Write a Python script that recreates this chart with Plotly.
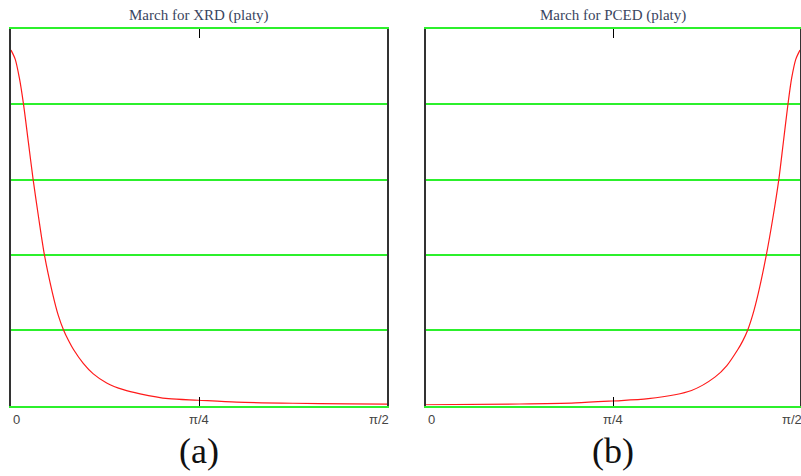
import math
import plotly.graph_objects as go

# ---- data ----
xrd_angle_deg = [0, 1.0, 2.0, 3.0, 4.15, 5.3, 6.6, 8.0, 9.9, 11.3, 12.6, 13.8, 15.0, 17.3, 19.7, 22.9, 26.9, 30.9, 37.7, 44.8, 54, 67.5, 81, 90]
xrd_value = [4.72, 4.6, 4.35, 4.0, 3.5, 3.0, 2.5, 2.0, 1.5, 1.2, 1.0, 0.86, 0.74, 0.56, 0.42, 0.30, 0.21, 0.155, 0.09, 0.07, 0.045, 0.03, 0.022, 0.018]

pced_angle_deg = [0, 22.5, 36, 44.8, 53.5, 63.9, 69.6, 72.4, 75.0, 76.2, 77.4, 78.6, 80.0, 81.9, 83.5, 84.9, 86.0, 87.1, 88.0, 89.0, 90]
pced_value = [0.01, 0.02, 0.035, 0.06, 0.09, 0.2, 0.38, 0.53, 0.74, 0.855, 1.0, 1.2, 1.5, 2.0, 2.5, 3.0, 3.5, 4.0, 4.35, 4.6, 4.72]

titles = ["March for XRD (platy)", "March for PCED (platy)"]
panel_labels = ["(a)", "(b)"]
tick_text = ["0", "π/4", "π/2"]
tick_pos = [0, math.pi / 4, math.pi / 2]

W, H = 801, 476
def px(v):
    return v / W
def py(v):
    return 1 - v / H

green = "#2cf02c"
dark = "#333333"

fig = go.Figure()
series = [(xrd_angle_deg, xrd_value), (pced_angle_deg, pced_value)]
for i, (a, v) in enumerate(series):
    fig.add_trace(go.Scatter(
        x=[d * math.pi / 180 for d in a], y=v,
        mode="lines", line=dict(color="#ff1a1a", width=1.2, shape="spline", smoothing=0.8),
        xaxis="x" if i == 0 else "x2", yaxis="y" if i == 0 else "y2",
        showlegend=False, hoverinfo="skip"))

domains = [(px(11), px(387)), (px(426), px(800))]
ydom = (py(405.5), py(29))

layout = dict(width=W, height=H, margin=dict(l=0, r=0, t=0, b=0),
              paper_bgcolor="white", plot_bgcolor="white", showlegend=False)
for i in range(2):
    sx = "" if i == 0 else "2"
    layout["xaxis" + sx] = dict(domain=list(domains[i]), range=[0, math.pi / 2],
                                showgrid=False, zeroline=False, showline=True,
                                linecolor=green, linewidth=1.5, mirror="allticks",
                                ticks="inside", tickvals=[math.pi / 4], ticklen=9,
                                tickcolor="black", tickwidth=1.2, showticklabels=False,
                                anchor="y" + sx, fixedrange=True)
    layout["yaxis" + sx] = dict(domain=list(ydom), range=[0, 5],
                                showgrid=True, gridcolor=green, gridwidth=1.5,
                                dtick=1, tick0=0, zeroline=False, showline=True,
                                linecolor=dark, linewidth=1.6, mirror=True,
                                ticks="", showticklabels=False,
                                anchor="x" + sx, fixedrange=True)
fig.update_layout(**layout)

annotations = []
for i in range(2):
    sx = "" if i == 0 else "2"
    cx = (domains[i][0] + domains[i][1]) / 2
    annotations.append(dict(text=titles[i], x=cx, y=py(16), xref="paper", yref="paper",
                            xanchor="center", yanchor="middle", showarrow=False,
                            font=dict(family="Liberation Serif", size=15, color="#3a4560")))
    annotations.append(dict(text=panel_labels[i], x=cx, y=py(451), xref="paper", yref="paper",
                            xanchor="center", yanchor="middle", showarrow=False,
                            font=dict(family="Liberation Serif", size=36, color="#111111")))
    anchors = ["left", "center", "right"]
    for t, p, an in zip(tick_text, tick_pos, anchors):
        annotations.append(dict(text=t, x=p, y=py(419), xref="x" + sx, yref="paper",
                                xanchor=an, yanchor="middle", showarrow=False,
                                xshift=0 if an == "left" else (4 if an == "right" else 0),
                                font=dict(family="Liberation Sans", size=13, color="#444444")))
fig.update_layout(annotations=annotations)

fig.write_html("out.html")
